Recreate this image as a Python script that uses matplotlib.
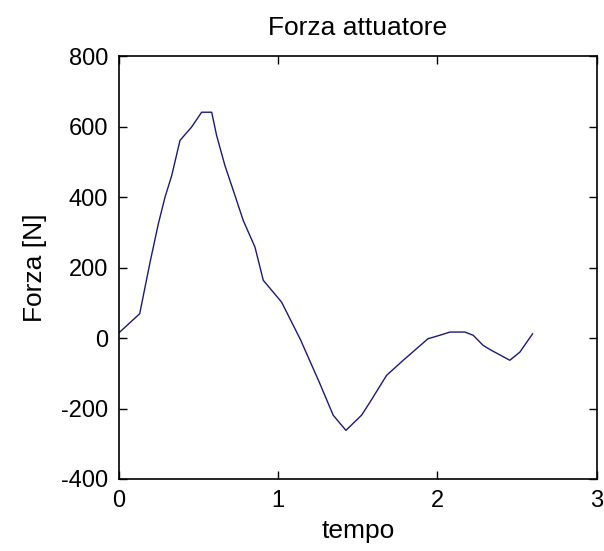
import matplotlib
matplotlib.use('Agg')
import matplotlib.pyplot as plt

# actuator force over time
tempo = [0.0, 0.13, 0.195, 0.247, 0.289, 0.331, 0.383, 0.456, 0.519, 0.582, 0.613,
         0.665, 0.728, 0.78, 0.854, 0.906, 1.021, 1.14, 1.262, 1.345, 1.425, 1.523,
         1.576, 1.68, 1.785, 1.94, 2.015, 2.078, 2.172, 2.224, 2.287, 2.339, 2.454,
         2.517, 2.597]
forza = [15, 69, 215, 324, 400, 461, 561, 599, 641, 641, 575,
         490, 405, 334, 258, 164, 102, -5, -130, -219, -262, -219,
         -182, -106, -63, -2, 8, 17, 17, 8, -21, -35, -63,
         -40, 12]

xticks = [0, 1, 2, 3]
yticks = [-400, -200, 0, 200, 400, 600, 800]

plt.rcParams['font.family'] = ['Liberation Sans', 'DejaVu Sans']
plt.rcParams['font.size'] = 17
plt.rcParams['axes.unicode_minus'] = False

fig = plt.figure(figsize=(6.04, 5.51), dpi=100)
ax = fig.add_axes([0.197, 0.1307, 0.791, 0.7673])
ax.plot(tempo, forza, color='#1a1a78', linewidth=1.0)

ax.set_xlim(0, 3)
ax.set_ylim(-400, 800)
ax.set_xticks(xticks)
ax.set_yticks(yticks)
ax.tick_params(direction='in', top=True, right=True, length=6, width=1, labelsize=17)
ax.tick_params(axis='x', pad=8)
ax.tick_params(axis='y', pad=8)
for s in ax.spines.values():
    s.set_linewidth(1.2)

ax.set_title('Forza attuatore', fontsize=19, pad=15)
ax.set_xlabel('tempo', fontsize=19, labelpad=5)
ax.set_ylabel('Forza [N]', fontsize=19, labelpad=10)

fig.savefig('out.png', dpi=100)
